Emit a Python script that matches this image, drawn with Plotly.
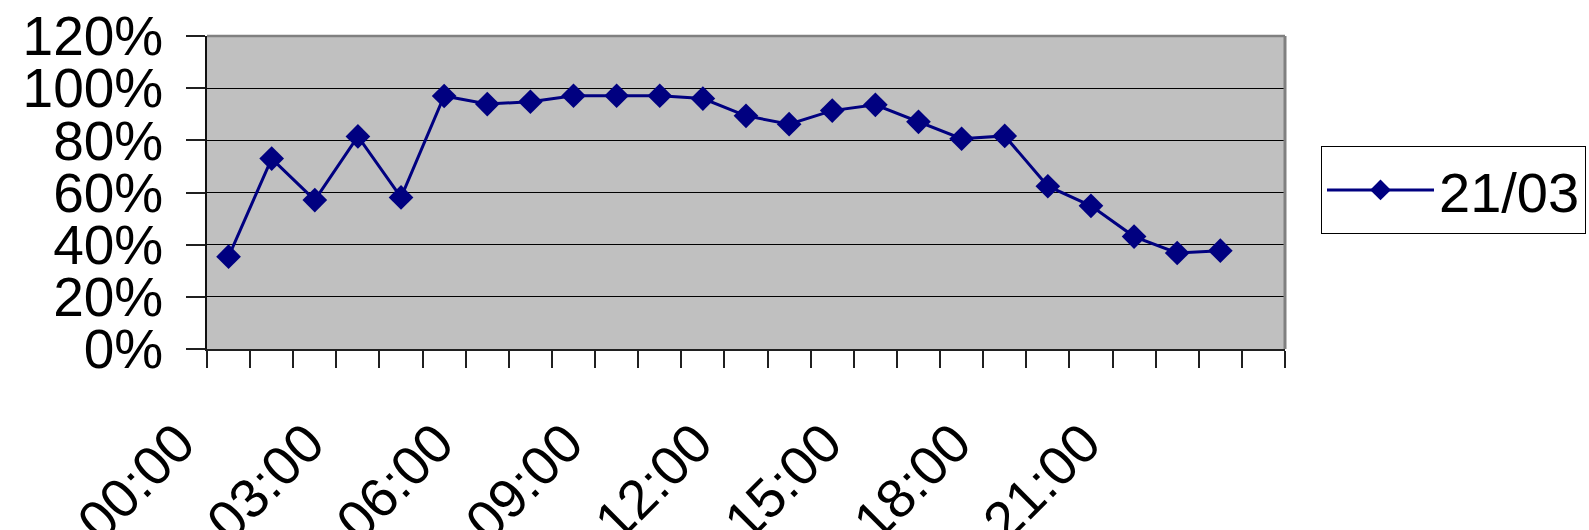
import plotly.graph_objects as go

hours = ["00:00", "01:00", "02:00", "03:00", "04:00", "05:00", "06:00", "07:00",
         "08:00", "09:00", "10:00", "11:00", "12:00", "13:00", "14:00", "15:00",
         "16:00", "17:00", "18:00", "19:00", "20:00", "21:00", "22:00", "23:00"]
values = [0.354, 0.730, 0.571, 0.815, 0.581, 0.970, 0.939, 0.948, 0.971, 0.971,
          0.971, 0.960, 0.894, 0.862, 0.914, 0.936, 0.871, 0.806, 0.817, 0.624,
          0.549, 0.431, 0.368, 0.377]
series_name = "21/03"
label_step = 3
n_slots = 25  # one empty category slot after the last hour

x_idx = list(range(len(hours)))
tick_vals = x_idx[::label_step]
tick_text = hours[::label_step]
boundaries = [i - 0.5 for i in range(n_slots + 1)]

FONT = "Liberation Sans, Arial, Helvetica, sans-serif"
NAVY = "#000080"

fig = go.Figure()
fig.add_trace(go.Scatter(
    x=x_idx, y=values, name=series_name, mode="lines+markers",
    line=dict(color=NAVY, width=3),
    marker=dict(symbol="diamond", size=19, color=NAVY),
))

fig.update_layout(
    width=1589, height=530,
    margin=dict(l=207, r=304, t=36, b=181, autoexpand=False),
    paper_bgcolor="white", plot_bgcolor="#C0C0C0",
    font=dict(family=FONT, color="black", size=55),
    showlegend=True,
    legend=dict(
        x=(1321 - 207) / 1078, xanchor="left",
        y=(349 - 190) / 313, yanchor="middle",
        bordercolor="black", borderwidth=1, bgcolor="white",
        font=dict(size=56, family=FONT),
        itemwidth=107,
    ),
    xaxis=dict(
        range=[-0.5, n_slots - 0.5],
        tickmode="array", tickvals=tick_vals, ticktext=tick_text,
        tickangle=-45, ticks="", showgrid=False, zeroline=False,
        showline=True, linecolor="#202020", linewidth=1.5,
        tickfont=dict(size=55, family=FONT),
        ticklabelstandoff=38, ticklabelshift=-50,
        minor=dict(tickmode="array", tickvals=boundaries, ticks="outside",
                   ticklen=17, tickwidth=1.5, tickcolor="#202020", showgrid=False),
    ),
    yaxis=dict(
        range=[0, 1.2], tickmode="linear", tick0=0, dtick=0.2,
        tickformat=".0%", ticks="outside", ticklen=19, tickwidth=1.5,
        tickcolor="#202020",
        showgrid=True, gridcolor="black", gridwidth=1, zeroline=False,
        showline=True, linecolor="#101010", linewidth=1.5,
        tickfont=dict(size=55, family=FONT),
        ticklabelstandoff=12,
    ),
    shapes=[
        dict(type="line", xref="paper", yref="paper", x0=0, x1=1, y0=1, y1=1,
             line=dict(color="#808080", width=2.5)),
        dict(type="line", xref="paper", yref="paper", x0=1, x1=1, y0=0, y1=1,
             line=dict(color="#808080", width=3)),
    ],
)

fig.write_html("out.html", config={"displayModeBar": False},
               post_script="document.body.style.margin='0';")
